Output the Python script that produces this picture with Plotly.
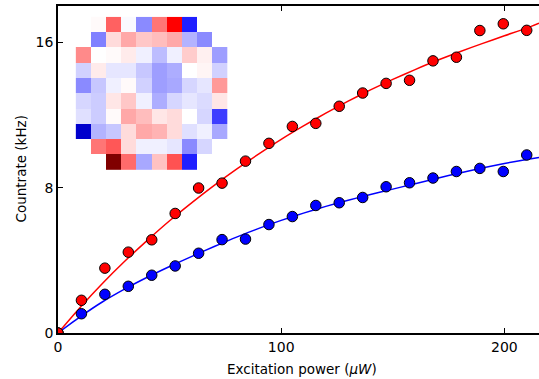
import plotly.graph_objects as go

# ---- data ----
power = [0, 10.5, 21, 31.5, 42, 52.5, 63, 73.5, 84, 94.5, 105,
         115.5, 126, 136.5, 147, 157.5, 168, 178.5, 189, 199.5, 210]
red_counts = [0, 1.80, 3.57, 4.45, 5.13, 6.58, 7.98, 8.25, 9.46, 10.44, 11.37,
              11.54, 12.48, 13.21, 13.74, 13.91, 14.98, 15.18, 16.65, 17.02, 16.66]
blue_counts = [0, 1.06, 2.13, 2.57, 3.18, 3.69, 4.39, 5.14, 5.17, 5.97, 6.41,
               7.02, 7.17, 7.46, 8.05, 8.27, 8.53, 8.89, 9.06, 8.89, 9.80]

fit_power = [0, 10, 20, 30, 40, 50, 60, 70, 80, 90, 100, 110, 120, 130,
             140, 150, 160, 170, 180, 190, 200, 210, 215.5]
red_fit = [0, 1.42, 2.74, 3.96, 5.10, 6.18, 7.18, 8.13, 9.02, 9.86, 10.66, 11.40,
           12.10, 12.76, 13.38, 13.96, 14.50, 15.01, 15.48, 15.93, 16.36, 16.78, 17.05]
blue_fit = [0, 0.90, 1.72, 2.43, 3.07, 3.66, 4.22, 4.76, 5.28, 5.76, 6.20, 6.60,
            6.97, 7.31, 7.62, 7.92, 8.22, 8.52, 8.81, 9.08, 9.33, 9.55, 9.66]

x_ticks = [0, 100, 200]
y_ticks = [0, 8, 16]
x_title = "Excitation power (<i>μW</i>)"
y_title = "Countrate (kHz)"

N = None
inset_map = [
    [N, 0.01, 0.31, -0.01, -0.23, 0.27, 0.50, -0.44, 0.0, N],
    [N, -0.25, 0.07, 0.17, 0.11, 0.13, 0.17, -0.15, -0.23, N],
    [0.23, 0.0, 0.01, 0.04, -0.03, -0.13, -0.03, 0.10, 0.03, -0.19],
    [-0.09, 0.04, -0.05, -0.05, -0.11, -0.19, -0.16, 0.0, 0.02, -0.09],
    [-0.23, -0.11, -0.03, 0.01, -0.09, -0.19, -0.17, -0.08, -0.05, 0.20],
    [-0.08, -0.10, 0.05, 0.11, -0.03, -0.16, -0.08, -0.05, -0.07, 0.05],
    [-0.06, -0.10, 0.01, 0.17, 0.13, 0.05, 0.07, 0.0, -0.08, -0.38],
    [-0.64, -0.15, -0.11, 0.07, 0.17, 0.15, 0.07, -0.06, -0.03, -0.17],
    [N, 0.27, 0.33, 0.07, -0.03, -0.03, -0.05, -0.23, -0.08, N],
    [N, 0.0, 1.00, 0.29, -0.17, 0.12, 0.34, -0.44, 0.0, N],
]

seismic = [[0.0, "rgb(0,0,77)"], [0.25, "rgb(0,0,255)"], [0.5, "rgb(255,255,255)"],
           [0.75, "rgb(255,0,0)"], [1.0, "rgb(128,0,0)"]]

FONT = "DejaVu Sans"

fig = go.Figure()
fig.add_trace(go.Scatter(x=fit_power, y=blue_fit, mode="lines",
                         line=dict(color="#0000ff", width=1.5, shape="spline", smoothing=0.6),
                         hoverinfo="skip"))
fig.add_trace(go.Scatter(x=fit_power, y=red_fit, mode="lines",
                         line=dict(color="#ff0000", width=1.5, shape="spline", smoothing=0.6),
                         hoverinfo="skip"))
fig.add_trace(go.Scatter(x=power, y=blue_counts, mode="markers",
                         marker=dict(color="#0000ff", size=10.5,
                                     line=dict(color="black", width=1))))
fig.add_trace(go.Scatter(x=power, y=red_counts, mode="markers",
                         marker=dict(color="#ff0000", size=10.5,
                                     line=dict(color="black", width=1))))
fig.add_trace(go.Heatmap(z=inset_map, xaxis="x2", yaxis="y2", colorscale=seismic,
                         zmin=-1, zmax=1, showscale=False, hoverongaps=False))

fig.update_layout(
    width=539, height=379,
    margin=dict(l=58, r=0, t=6, b=46, autoexpand=False),
    paper_bgcolor="white", plot_bgcolor="white",
    showlegend=False,
    font=dict(family=FONT, size=14, color="black"),
    xaxis=dict(range=[0, 215.5], tickvals=x_ticks, ticks="inside", ticklen=5,
               tickcolor="black", showline=True, linecolor="black", linewidth=1.5,
               mirror="ticks", showgrid=False, zeroline=False, automargin=False),
    yaxis=dict(range=[0, 18], tickvals=y_ticks, ticks="inside", ticklen=5,
               tickcolor="black", showline=True, linecolor="black", linewidth=1.5,
               mirror=False, showgrid=False, zeroline=False, automargin=False),
    xaxis2=dict(domain=[0.0366, 0.3524], anchor="y2", visible=False,
                range=[-0.5, 9.5], showgrid=False, zeroline=False),
    yaxis2=dict(domain=[0.4985, 0.967], anchor="x2", visible=False,
                range=[9.5, -0.5], showgrid=False, zeroline=False),
    annotations=[
        dict(text=x_title, xref="paper", yref="paper", x=0.507, y=-0.110,
             xanchor="center", yanchor="middle", showarrow=False,
             font=dict(family=FONT, size=13.5)),
        dict(text=y_title, xref="paper", yref="paper", x=-0.079, y=0.5,
             xanchor="center", yanchor="middle", textangle=-90, showarrow=False,
             font=dict(family=FONT, size=13.5)),
    ],
)

fig.write_html("out.html", config={"displayModeBar": False},
               post_script="document.body.style.margin='0';document.body.style.overflow='hidden';")
